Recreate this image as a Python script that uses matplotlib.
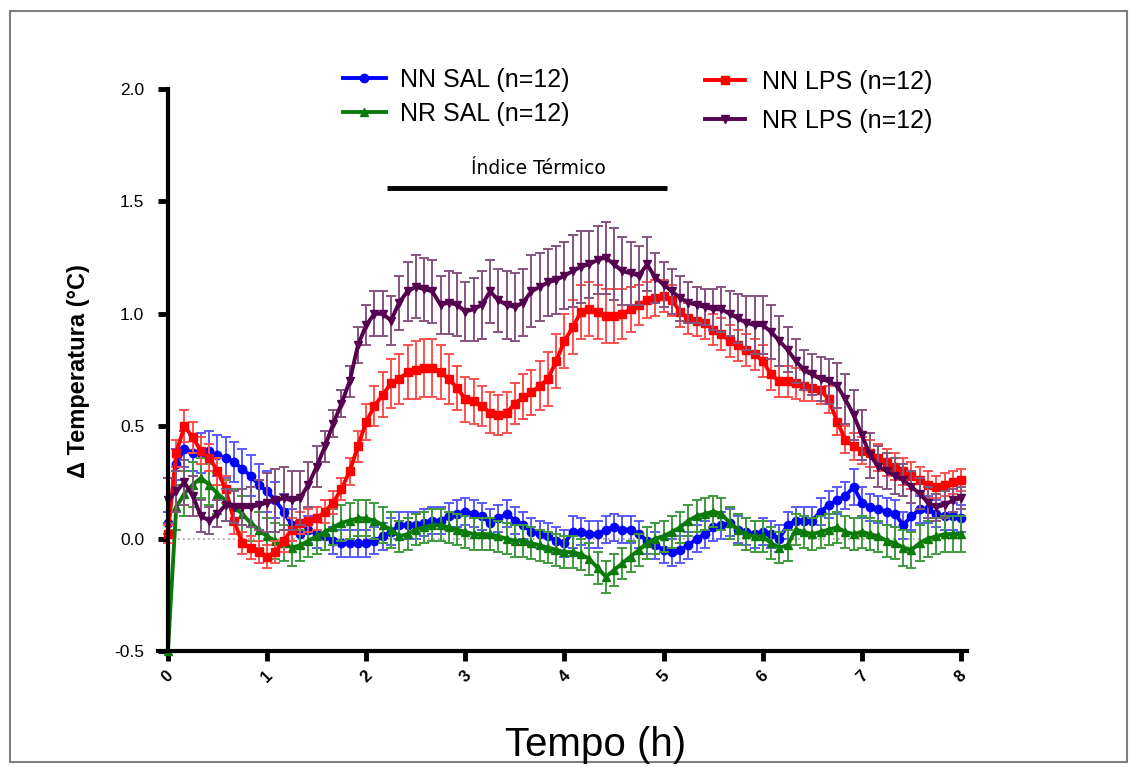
import numpy as np
import matplotlib
matplotlib.use("Agg")
import matplotlib.pyplot as plt
from matplotlib.patches import Rectangle

plt.rcParams['font.family'] = ['Liberation Sans', 'DejaVu Sans']

# ---------------- data (5-min bins, 0 .. 8 h) ----------------
nr_lps = [
    0.17, 0.21, 0.25, 0.19, 0.10, 0.08, 0.11, 0.15, 0.14, 0.14, 0.14, 0.15,
    0.16, 0.17, 0.18, 0.17, 0.18, 0.24, 0.32, 0.41, 0.51, 0.60, 0.70, 0.86,
    0.95, 1.00, 1.00, 0.97, 1.05, 1.10, 1.12, 1.11, 1.10, 1.04, 1.05, 1.04,
    1.01, 1.02, 1.04, 1.10, 1.06, 1.04, 1.03, 1.05, 1.10, 1.12, 1.14, 1.15,
    1.17, 1.19, 1.21, 1.22, 1.24, 1.25, 1.22, 1.19, 1.18, 1.17, 1.22, 1.16,
    1.13, 1.10, 1.07, 1.05, 1.04, 1.03, 1.02, 1.02, 1.00, 0.98, 0.96, 0.95,
    0.95, 0.92, 0.88, 0.84, 0.79, 0.75, 0.73, 0.71, 0.70, 0.68, 0.62, 0.55,
    0.46, 0.37, 0.32, 0.30, 0.28, 0.26, 0.23, 0.20, 0.16, 0.14, 0.15, 0.17,
    0.18]
nr_lps_err = [
    0.10, 0.09, 0.10, 0.09, 0.07, 0.06, 0.06, 0.07, 0.07, 0.08, 0.09, 0.11,
    0.13, 0.14, 0.14, 0.13, 0.12, 0.10, 0.09, 0.07, 0.06, 0.06, 0.07, 0.08,
    0.09, 0.10, 0.10, 0.11, 0.12, 0.13, 0.14, 0.14, 0.14, 0.13, 0.14, 0.14,
    0.13, 0.14, 0.15, 0.14, 0.14, 0.15, 0.15, 0.15, 0.16, 0.15, 0.15, 0.15,
    0.15, 0.16, 0.16, 0.15, 0.15, 0.16, 0.16, 0.15, 0.14, 0.13, 0.12, 0.11,
    0.10, 0.10, 0.10, 0.09, 0.08, 0.08, 0.09, 0.10, 0.10, 0.11, 0.12, 0.13,
    0.13, 0.12, 0.11, 0.10, 0.10, 0.09, 0.09, 0.10, 0.10, 0.10, 0.11, 0.11,
    0.11, 0.10, 0.09, 0.08, 0.08, 0.07, 0.07, 0.07, 0.07, 0.06, 0.06, 0.05,
    0.05]

nn_lps = [
    0.02, 0.38, 0.50, 0.45, 0.39, 0.36, 0.30, 0.22, 0.08, -0.02, -0.04, -0.06,
    -0.08, -0.06, -0.01, 0.04, 0.07, 0.08, 0.09, 0.12, 0.16, 0.22, 0.30, 0.41,
    0.52, 0.59, 0.64, 0.69, 0.71, 0.74, 0.75, 0.76, 0.76, 0.74, 0.71, 0.67,
    0.62, 0.61, 0.59, 0.56, 0.55, 0.56, 0.60, 0.63, 0.65, 0.68, 0.71, 0.79,
    0.88, 0.94, 1.01, 1.02, 1.01, 0.99, 0.99, 1.00, 1.02, 1.04, 1.06, 1.07,
    1.08, 1.06, 1.01, 0.98, 0.97, 0.96, 0.93, 0.91, 0.88, 0.86, 0.84, 0.82,
    0.79, 0.73, 0.70, 0.70, 0.69, 0.68, 0.67, 0.66, 0.62, 0.52, 0.44, 0.41,
    0.39, 0.38, 0.36, 0.34, 0.32, 0.30, 0.28, 0.26, 0.24, 0.23, 0.24, 0.25,
    0.26]
nn_lps_err = [
    0.04, 0.06, 0.07, 0.07, 0.06, 0.06, 0.06, 0.06, 0.06, 0.05, 0.05, 0.05,
    0.05, 0.05, 0.05, 0.05, 0.05, 0.05, 0.05, 0.05, 0.05, 0.05, 0.06, 0.07,
    0.08, 0.09, 0.10, 0.11, 0.11, 0.12, 0.13, 0.13, 0.13, 0.12, 0.11, 0.10,
    0.10, 0.10, 0.09, 0.09, 0.09, 0.09, 0.09, 0.10, 0.10, 0.11, 0.12, 0.12,
    0.12, 0.12, 0.12, 0.12, 0.12, 0.12, 0.12, 0.11, 0.10, 0.09, 0.08, 0.08,
    0.07, 0.07, 0.07, 0.07, 0.07, 0.07, 0.07, 0.07, 0.07, 0.07, 0.07, 0.07,
    0.07, 0.07, 0.07, 0.07, 0.07, 0.07, 0.06, 0.06, 0.06, 0.06, 0.06, 0.06,
    0.06, 0.06, 0.06, 0.06, 0.06, 0.06, 0.06, 0.06, 0.06, 0.05, 0.05, 0.05,
    0.05]

nn_sal = [
    0.07, 0.33, 0.40, 0.38, 0.38, 0.39, 0.37, 0.36, 0.34, 0.31, 0.28, 0.24,
    0.21, 0.17, 0.12, 0.06, 0.02, 0.04, 0.02, 0.01, -0.01, -0.02, -0.02, -0.02,
    -0.02, -0.01, 0.01, 0.03, 0.06, 0.06, 0.06, 0.07, 0.08, 0.08, 0.10, 0.11,
    0.12, 0.11, 0.10, 0.07, 0.09, 0.11, 0.08, 0.06, 0.03, 0.02, 0.01, -0.01,
    -0.02, 0.03, 0.03, 0.02, 0.02, 0.04, 0.05, 0.04, 0.04, 0.02, -0.01, -0.03,
    -0.05, -0.06, -0.05, -0.03, 0.00, 0.02, 0.05, 0.06, 0.07, 0.04, 0.03, 0.02,
    0.03, 0.02, 0.00, 0.06, 0.08, 0.08, 0.08, 0.12, 0.15, 0.17, 0.19, 0.23,
    0.16, 0.14, 0.13, 0.12, 0.11, 0.06, 0.10, 0.13, 0.13, 0.11, 0.10, 0.10,
    0.09]
nn_sal_err = [
    0.05, 0.07, 0.08, 0.08, 0.09, 0.09, 0.09, 0.09, 0.09, 0.09, 0.09, 0.09,
    0.09, 0.08, 0.08, 0.07, 0.06, 0.06, 0.06, 0.06, 0.06, 0.06, 0.06, 0.06,
    0.06, 0.06, 0.06, 0.06, 0.06, 0.06, 0.06, 0.06, 0.06, 0.06, 0.06, 0.06,
    0.06, 0.06, 0.06, 0.06, 0.06, 0.06, 0.06, 0.06, 0.06, 0.06, 0.06, 0.06,
    0.06, 0.07, 0.06, 0.06, 0.06, 0.06, 0.06, 0.06, 0.06, 0.06, 0.06, 0.06,
    0.06, 0.06, 0.06, 0.06, 0.06, 0.06, 0.06, 0.06, 0.06, 0.06, 0.06, 0.06,
    0.06, 0.06, 0.06, 0.06, 0.06, 0.06, 0.06, 0.06, 0.06, 0.06, 0.06, 0.08,
    0.07, 0.06, 0.06, 0.06, 0.06, 0.06, 0.06, 0.06, 0.06, 0.06, 0.06, 0.06,
    0.06]

nr_sal = [
    -0.50, 0.14, 0.20, 0.24, 0.27, 0.24, 0.20, 0.17, 0.14, 0.11, 0.07, 0.04,
    0.01, -0.01, -0.02, -0.04, -0.03, -0.01, 0.01, 0.03, 0.05, 0.07, 0.08, 0.09,
    0.09, 0.08, 0.06, 0.04, 0.01, 0.02, 0.04, 0.05, 0.06, 0.06, 0.05, 0.04,
    0.03, 0.02, 0.02, 0.02, 0.01, 0.00, -0.01, -0.01, -0.02, -0.03, -0.04, -0.05,
    -0.06, -0.06, -0.07, -0.09, -0.13, -0.17, -0.14, -0.11, -0.08, -0.05, -0.02, 0.00,
    0.01, 0.03, 0.05, 0.08, 0.10, 0.11, 0.12, 0.11, 0.07, 0.04, 0.02, 0.01,
    0.01, -0.02, -0.04, -0.03, 0.04, 0.03, 0.02, 0.03, 0.04, 0.05, 0.03, 0.02,
    0.03, 0.02, 0.01, -0.01, -0.02, -0.04, -0.05, -0.02, 0.00, 0.01, 0.02, 0.02,
    0.02]
nr_sal_err = [
    0.00, 0.10, 0.10, 0.10, 0.09, 0.09, 0.09, 0.09, 0.08, 0.08, 0.08, 0.08,
    0.08, 0.08, 0.08, 0.08, 0.07, 0.07, 0.08, 0.08, 0.08, 0.08, 0.08, 0.08,
    0.08, 0.08, 0.08, 0.08, 0.07, 0.07, 0.07, 0.07, 0.07, 0.07, 0.07, 0.07,
    0.07, 0.07, 0.07, 0.07, 0.07, 0.07, 0.07, 0.07, 0.07, 0.07, 0.07, 0.07,
    0.07, 0.07, 0.07, 0.07, 0.07, 0.07, 0.07, 0.07, 0.07, 0.07, 0.07, 0.07,
    0.07, 0.07, 0.07, 0.07, 0.07, 0.07, 0.07, 0.07, 0.07, 0.07, 0.07, 0.07,
    0.07, 0.07, 0.07, 0.07, 0.07, 0.07, 0.07, 0.07, 0.07, 0.07, 0.07, 0.07,
    0.07, 0.07, 0.07, 0.07, 0.07, 0.08, 0.08, 0.08, 0.08, 0.08, 0.08, 0.08,
    0.08]

time_h = np.arange(len(nn_sal)) / 12.0   # 5-minute sampling

x_ticks = [0, 1, 2, 3, 4, 5, 6, 7, 8]
y_ticks = [-0.5, 0.0, 0.5, 1.0, 1.5, 2.0]
y_tick_labels = ["-0.5", "0.0", "0.5", "1.0", "1.5", "2.0"]

series = [
    ("NN SAL (n=12)", nn_sal, nn_sal_err, "#0000ff", "#5a5aff", "o"),
    ("NR SAL (n=12)", nr_sal, nr_sal_err, "#0a7a0a", "#3f9a3f", "^"),
    ("NN LPS (n=12)", nn_lps, nn_lps_err, "#ff0000", "#ff5050", "s"),
    ("NR LPS (n=12)", nr_lps, nr_lps_err, "#550050", "#86547f", "v"),
]

# ---------------- figure ----------------
W, H = 1130, 767
fig = plt.figure(figsize=(W / 100, H / 100), dpi=100)
fig.patches.append(Rectangle((10 / W, 5 / H), 1117 / W, 751 / H, transform=fig.transFigure,
                             fill=False, edgecolor="#7f7f7f", lw=1.5))

ax = fig.add_axes([158 / W, 1 - 651 / H, 809 / W, 562 / H])
ax.set_xlim(-0.1, 8.06)
ax.set_ylim(-0.5, 2.0)

ax.plot([0, 8], [0, 0], ls=(0, (1, 2)), color="#a0a0a0", lw=1.2, zorder=1)

handles = {}
for i, (lab, y, e, c, ec, m) in enumerate(series):
    eb = ax.errorbar(time_h, y, yerr=e, color=c, ecolor=ec, marker=m, ms=6,
                     lw=2.8, elinewidth=1.4, capsize=3.8, capthick=1.4,
                     label=lab, zorder=3 + i, clip_on=False)
    handles[lab] = eb[0]

for s in ["top", "right"]:
    ax.spines[s].set_visible(False)
ax.spines["left"].set_position(("data", 0))
for s in ["left", "bottom"]:
    ax.spines[s].set_linewidth(3)
    ax.spines[s].set_zorder(10)

ax.set_yticks(y_ticks)
ax.set_yticklabels(y_tick_labels)
ax.set_xticks(x_ticks)
ax.set_xticklabels([str(v) for v in x_ticks], rotation=45, ha="center", va="top",
                   fontweight="bold")
ax.tick_params(axis="y", direction="out", length=7, width=3.5, labelsize=12.5, pad=10)
ax.tick_params(axis="x", direction="out", length=7, width=3.5, labelsize=12, pad=5)

ax.set_ylabel("Δ Temperatura (°C)", fontsize=17, fontweight="bold")
ax.yaxis.set_label_coords((90 - 158) / 809, 0.5 + (651 - 371 - 281) / 562)
fig.text(596 / W, 1 - 756 / H, "Tempo (h)", fontsize=29, ha="center", va="baseline")

# Índice Térmico bar
ax.plot([2.21, 5.03], [1.56, 1.56], color="black", lw=3.5, solid_capstyle="butt",
        clip_on=False)
ax.text(3.74, 1.645, "Índice Térmico", ha="center", va="center", fontsize=13.5,
        family="DejaVu Sans")

leg1 = fig.legend([handles["NN SAL (n=12)"], handles["NR SAL (n=12)"]],
                  ["NN SAL (n=12)", "NR SAL (n=12)"], loc="upper left",
                  bbox_to_anchor=(343 / W, 1 - 68 / H), frameon=False, fontsize=18,
                  handlelength=1.7, handletextpad=0.6, labelspacing=0.4, borderpad=0,
                  borderaxespad=0)
leg2 = fig.legend([handles["NN LPS (n=12)"], handles["NR LPS (n=12)"]],
                  ["NN LPS (n=12)", "NR LPS (n=12)"], loc="upper left",
                  bbox_to_anchor=(705 / W, 1 - 70 / H), frameon=False, fontsize=18,
                  handlelength=1.6, handletextpad=0.7, labelspacing=0.6, borderpad=0,
                  borderaxespad=0)

fig.savefig("out.png", dpi=100)
